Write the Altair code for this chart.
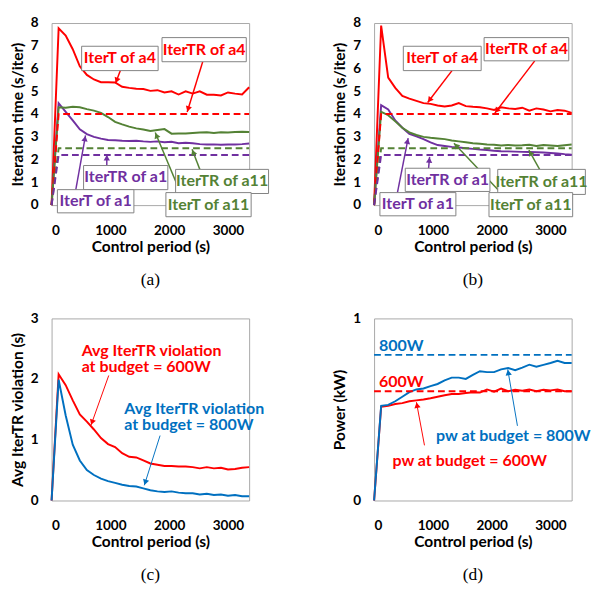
import math
import altair as alt
import pandas as pd

# ---------------- data ----------------
TIME = [0, 120, 240, 360, 480, 600, 720, 840, 960, 1080, 1200, 1320, 1440, 1560,
        1680, 1800, 1920, 2040, 2160, 2280, 2400, 2520, 2640, 2760, 2880, 3000,
        3120, 3240, 3360]

# panel (a)
A_ITERT_A4 = [0, 7.77, 7.45, 6.85, 6.1, 5.72, 5.52, 5.4, 5.4, 5.39, 5.2, 5.15, 5.11, 5.1,
              5.02, 5.05, 4.95, 5.0, 4.86, 5.0, 4.9, 5.0, 4.85, 4.85, 4.82, 4.95, 4.9, 4.86, 5.18]
A_ITERT_A1 = [0, 4.48, 4.1, 3.72, 3.33, 3.12, 3.0, 2.92, 2.86, 2.85, 2.83, 2.82, 2.83, 2.8,
              2.78, 2.8, 2.76, 2.78, 2.72, 2.74, 2.72, 2.68, 2.66, 2.67, 2.65, 2.66, 2.66, 2.68, 2.71]
A_ITERT_A11 = [0, 4.3, 4.28, 4.32, 4.3, 4.22, 4.15, 4.05, 3.87, 3.66, 3.55, 3.45, 3.37, 3.32,
               3.26, 3.3, 3.34, 3.14, 3.15, 3.15, 3.17, 3.19, 3.2, 3.17, 3.2, 3.19, 3.21, 3.22, 3.21]
# panel (b)
B_ITERT_A4 = [0, 7.89, 5.6, 5.15, 4.8, 4.68, 4.58, 4.48, 4.45, 4.38, 4.33, 4.38, 4.48, 4.35,
              4.32, 4.3, 4.25, 4.18, 4.3, 4.25, 4.22, 4.28, 4.15, 4.25, 4.2, 4.12, 4.18, 4.15, 4.05]
B_ITERT_A1 = [0, 4.39, 4.2, 3.72, 3.4, 3.13, 3.02, 2.9, 2.76, 2.64, 2.6, 2.56, 2.53, 2.5,
              2.47, 2.44, 2.42, 2.39, 2.37, 2.36, 2.35, 2.34, 2.33, 2.32, 2.31, 2.29, 2.27, 2.24, 2.22]
B_ITERT_A11 = [0, 4.1, 3.95, 3.68, 3.4, 3.2, 3.08, 3.0, 2.96, 2.93, 2.9, 2.84, 2.8, 2.76,
               2.72, 2.7, 2.66, 2.65, 2.62, 2.64, 2.62, 2.63, 2.65, 2.6, 2.64, 2.62, 2.6, 2.63, 2.66]
# IterTR targets (a) and (b)
TR_TIME = [0, 120, 3360]
TR_A4 = [0, 4.0, 4.0]
TR_A11 = [0, 2.5, 2.5]
TR_A1 = [0, 2.2, 2.2]
# panel (c)
C_VIOL_600 = [0, 2.08, 1.9, 1.65, 1.42, 1.3, 1.17, 1.03, 0.93, 0.88, 0.78, 0.72, 0.71, 0.66,
              0.61, 0.59, 0.57, 0.57, 0.56, 0.56, 0.55, 0.53, 0.55, 0.53, 0.54, 0.51, 0.52, 0.54, 0.55]
C_VIOL_800 = [0, 1.99, 1.4, 0.92, 0.66, 0.5, 0.42, 0.36, 0.32, 0.29, 0.26, 0.24, 0.23, 0.2,
              0.17, 0.15, 0.14, 0.15, 0.13, 0.12, 0.12, 0.1, 0.11, 0.09, 0.1, 0.08, 0.09, 0.07, 0.07]
# panel (d)
D_PW_600 = [0, 0.515, 0.52, 0.53, 0.535, 0.545, 0.55, 0.555, 0.562, 0.57, 0.578, 0.585, 0.585, 0.59,
            0.595, 0.593, 0.61, 0.598, 0.615, 0.6, 0.608, 0.603, 0.61, 0.6, 0.608, 0.605, 0.61, 0.6, 0.6]
D_PW_800 = [0, 0.52, 0.525, 0.545, 0.57, 0.595, 0.61, 0.615, 0.628, 0.64, 0.66, 0.675, 0.675, 0.668,
            0.69, 0.71, 0.705, 0.705, 0.72, 0.728, 0.716, 0.73, 0.746, 0.735, 0.745, 0.755, 0.767, 0.755, 0.755]
BUDGET_TIME = [0, 3360]
BUDGET_800 = [0.8, 0.8]
BUDGET_600 = [0.6, 0.6]

# ---------------- styling ----------------
RED, PURPLE, GREEN, BLUE = "#FF0000", "#7030A0", "#548235", "#0070C0"
FONT = "Lato"
NOTE_SIZE = 16.5
W, H = 204, 188
XMAX = 3360

# annotation boxes: label, colour, t1, t2, v_top, v_bottom
A_BOXES = [
    ("IterT of a4", RED, 511, 1812, 6.98, 5.91),
    ("IterTR of a4", RED, 1878, 3311, 7.36, 6.30),
    ("IterTR of a1", PURPLE, 544, 1977, 1.74, 0.68),
    ("IterT of a1", PURPLE, 99, 1400, 0.68, -0.34),
    ("IterTR of a11", GREEN, 2109, 3690, 1.57, 0.51),
    ("IterT of a11", GREEN, 1944, 3394, 0.55, -0.51),
]
A_ARROWS = [
    (1170, 5.91, 1087, 5.35, RED),
    (2570, 6.30, 2306, 4.09, RED),
    (939, 1.74, 939, 2.22, PURPLE),
    (412, 0.68, 577, 3.06, PURPLE),
    (2521, 1.57, 2389, 2.45, GREEN),
    (2191, 0.55, 1763, 3.19, GREEN),
]
B_BOXES = [
    ("IterT of a4", RED, 497, 1821, 6.98, 5.91),
    ("IterTR of a4", RED, 1871, 3311, 7.36, 6.34),
    ("IterTR of a1", PURPLE, 530, 1970, 1.62, 0.60),
    ("IterT of a1", PURPLE, 99, 1391, 0.55, -0.47),
    ("IterTR of a11", GREEN, 2103, 3593, 1.57, 0.47),
    ("IterT of a11", GREEN, 1954, 3377, 0.55, -0.51),
]
B_ARROWS = [
    (1325, 5.91, 911, 4.51, RED),
    (2732, 6.34, 2053, 4.04, RED),
    (927, 1.62, 944, 2.12, PURPLE),
    (397, 0.55, 579, 2.94, PURPLE),
    (2815, 1.57, 2632, 2.42, GREEN),
    (2152, 0.55, 1358, 2.72, GREEN),
]
C_TEXTS = [
    ("Avg IterTR violation", RED, 511, 2.46),
    ("at budget = 600W", RED, 511, 2.19),
    ("Avg IterTR violation", BLUE, 1236, 1.50),
    ("at budget = 800W", BLUE, 1236, 1.24),
]
C_ARROWS = [
    (972, 2.06, 670, 1.24, RED),
    (1845, 1.07, 1577, 0.25, BLUE),
]
D_TEXTS = [
    ("800W", BLUE, 82, 0.847),
    ("600W", RED, 82, 0.649),
    ("pw at budget = 800W", BLUE, 1054, 0.353),
    ("pw at budget = 600W", RED, 313, 0.214),
]
D_ARROWS = [
    (857, 0.303, 720, 0.54, RED),
    (2438, 0.41, 2273, 0.72, BLUE),
]


def series_df(items):
    rows = []
    for name, color, ts, vs in items:
        for t, v in zip(ts, vs):
            rows.append({"s": name, "c": color, "t": t, "v": v})
    return pd.DataFrame(rows, columns=["s", "c", "t", "v"])


def arrow_df(arrows, ymax, size):
    rows = []
    back = math.sqrt(size) / 2
    for t1, v1, t2, v2, col in arrows:
        dx = (t2 - t1) * W / XMAX
        dy = -(v2 - v1) * H / ymax
        L = math.hypot(dx, dy)
        ang = math.degrees(math.atan2(dx, -dy)) % 360
        tc = t2 - back * dx / L * XMAX / W
        vc = v2 + back * dy / L * ymax / H
        rows.append({"t": t1, "v": v1, "t2": t2, "v2": v2, "c": col,
                     "tc": tc, "vc": vc, "ang": ang})
    return pd.DataFrame(rows)


def panel(solid, dashed, boxes, texts, arrows, ymax, yticks, ytitle, caption,
          text_align, arrow_w):
    xs = alt.Scale(domain=[0, XMAX], nice=False, zero=True)
    ys = alt.Scale(domain=[0, ymax], nice=False)
    xax = alt.Axis(values=[0, 1000, 2000, 3000], format="d", title="Control period (s)",
                   labelPadding=19, titlePadding=2)
    yax = alt.Axis(values=yticks, format="d", title=ytitle, labelPadding=14, titlePadding=5)

    def X(f):
        return alt.X(f, type="quantitative", scale=xs, axis=xax)

    def Y(f):
        return alt.Y(f, type="quantitative", scale=ys, axis=yax)

    layers = []
    sdf = series_df(solid)
    layers.append(alt.Chart(sdf).mark_line(strokeWidth=2).encode(
        x=X("t"), y=Y("v"), color=alt.Color("c:N", scale=None), detail="s:N"))
    if dashed:
        ddf = series_df(dashed)
        layers.append(alt.Chart(ddf).mark_line(strokeWidth=2, strokeDash=[7, 4]).encode(
            x=X("t"), y=Y("v"), color=alt.Color("c:N", scale=None), detail="s:N"))
    size = 42
    adf = arrow_df(arrows, ymax, size)
    layers.append(alt.Chart(adf).mark_rule(strokeWidth=arrow_w).encode(
        x=X("t"), y=Y("v"), x2="t2:Q", y2="v2:Q", color=alt.Color("c:N", scale=None)))
    layers.append(alt.Chart(adf).mark_point(shape="triangle-up", filled=True, size=size, opacity=1).encode(
        x=X("tc"), y=Y("vc"), color=alt.Color("c:N", scale=None),
        angle=alt.Angle("ang:Q", scale=None)))
    if boxes:
        bdf = pd.DataFrame([{"label": b[0], "c": b[1], "t": b[2], "t2": b[3], "v": b[4], "v2": b[5],
                             "tm": (b[2] + b[3]) / 2, "vm": (b[4] + b[5]) / 2} for b in boxes])
        layers.append(alt.Chart(bdf).mark_rect(fill="white", stroke="#7F7F7F", strokeWidth=1).encode(
            x=X("t"), x2="t2:Q", y=Y("v"), y2="v2:Q"))
        layers.append(alt.Chart(bdf).mark_text(font=FONT, fontWeight="bold", fontSize=NOTE_SIZE,
                                               align="center", baseline="middle").encode(
            x=X("tm"), y=Y("vm"), text="label:N", color=alt.Color("c:N", scale=None)))
    if texts:
        tdf = pd.DataFrame([{"label": t[0], "c": t[1], "t": t[2], "v": t[3]} for t in texts])
        layers.append(alt.Chart(tdf).mark_text(font=FONT, fontWeight="bold", fontSize=NOTE_SIZE,
                                               align=text_align, baseline="middle").encode(
            x=X("t"), y=Y("v"), text="label:N", color=alt.Color("c:N", scale=None)))
    return alt.layer(*layers).properties(
        width=W, height=H,
        title=alt.TitleParams(caption, orient="bottom", font="Liberation Serif", fontSize=18,
                              fontWeight="normal", color="black", offset=17,
                              anchor="middle", frame="group"))


pa = panel(
    [("a4", RED, TIME, A_ITERT_A4), ("a1", PURPLE, TIME, A_ITERT_A1), ("a11", GREEN, TIME, A_ITERT_A11)],
    [("tr4", RED, TR_TIME, TR_A4), ("tr11", GREEN, TR_TIME, TR_A11), ("tr1", PURPLE, TR_TIME, TR_A1)],
    A_BOXES, None, A_ARROWS, 8, [0, 1, 2, 3, 4, 5, 6, 7, 8], "Iteration time (s/iter)", "(a)",
    "center", 1.5)
pb = panel(
    [("a4", RED, TIME, B_ITERT_A4), ("a1", PURPLE, TIME, B_ITERT_A1), ("a11", GREEN, TIME, B_ITERT_A11)],
    [("tr4", RED, TR_TIME, TR_A4), ("tr11", GREEN, TR_TIME, TR_A11), ("tr1", PURPLE, TR_TIME, TR_A1)],
    B_BOXES, None, B_ARROWS, 8, [0, 1, 2, 3, 4, 5, 6, 7, 8], "Iteration time (s/iter)", "(b)",
    "center", 1.5)
pc = panel(
    [("v600", RED, TIME, C_VIOL_600), ("v800", BLUE, TIME, C_VIOL_800)],
    [],
    None, C_TEXTS, C_ARROWS, 3, [0, 1, 2, 3], "Avg IterTR violation (s)", "(c)",
    "left", 1)
pd_ = panel(
    [("p600", RED, TIME, D_PW_600), ("p800", BLUE, TIME, D_PW_800)],
    [("b800", BLUE, BUDGET_TIME, BUDGET_800), ("b600", RED, BUDGET_TIME, BUDGET_600)],
    None, D_TEXTS, D_ARROWS, 1, [0, 1], "Power (kW)", "(d)",
    "left", 1)

chart = alt.concat(pa, pb, pc, pd_, columns=2, spacing={"row": 117, "column": 129},
                   bounds="flush").properties(
    padding={"left": 1, "top": -2, "right": 0, "bottom": 0}
).configure_view(stroke="#A6A6A6", strokeWidth=1).configure_axis(
    labelFont=FONT, labelFontSize=14, labelFontWeight="bold", labelColor="black",
    titleFont=FONT, titleFontSize=16, titleFontWeight="bold", titleColor="black",
    domain=False, ticks=False, grid=False
)

chart.save("out.html", embed_options={"renderer": "svg", "actions": False})
